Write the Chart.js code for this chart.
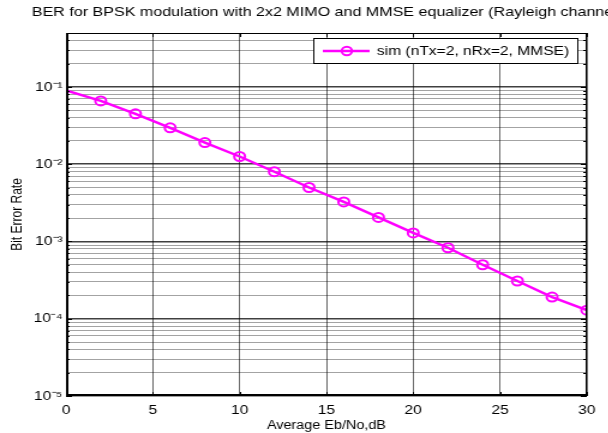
<!DOCTYPE html>
<html>
<head>
<meta charset="utf-8">
<script src="https://cdn.jsdelivr.net/npm/chart.js@4"></script>
<style>
  html, body { margin: 0; padding: 0; background: #fff; overflow: hidden; }
  /* the reference figure is stretched ~1.2x horizontally */
  #wrap { width: 507px; height: 433px; transform: scaleX(1.2); transform-origin: 0 0; }
</style>
</head>
<body>
<div id="wrap"><canvas id="chart" width="507" height="433"></canvas></div>
<script>
// BER vs Eb/No, 2x2 MIMO with MMSE equalizer
const ebno = [0, 2, 4, 6, 8, 10, 12, 14, 16, 18, 20, 22, 24, 26, 28, 30];
const ber = [0.0906, 0.066, 0.045, 0.0296, 0.0191, 0.0126, 0.0080, 0.0050,
             0.00325, 0.00205, 0.00129, 0.00083, 0.00050, 0.000308, 0.000191, 0.000129];
const xTicks = [0, 5, 10, 15, 20, 25, 30];
const yDecades = [-5, -4, -3, -2, -1];
const seriesName = 'sim (nTx=2, nRx=2, MMSE)';
const titleText = 'BER for BPSK modulation with 2x2 MIMO and MMSE equalizer (Rayleigh channel)';

const sup = { '-': '\u207B', '0': '\u2070', '1': '\u00B9', '2': '\u00B2', '3': '\u00B3',
              '4': '\u2074', '5': '\u2075', '6': '\u2076', '7': '\u2077', '8': '\u2078', '9': '\u2079' };
function powLabel(e) {
  return '10' + String(e).split('').map(c => sup[c]).join('');
}
function isDecade(v) {
  const e = Math.round(Math.log10(v));
  return Math.abs(v - Math.pow(10, e)) < 1e-12;
}

// axes box, inner tick marks, title and legend box (matlab style)
const frame = {
  id: 'frame',
  afterDraw(chart) {
    const a = chart.chartArea, ctx = chart.ctx;
    const xs = chart.scales.x, ys = chart.scales.y;
    ctx.save();
    ctx.strokeStyle = '#000';
    ctx.lineWidth = 1;
    ctx.beginPath();
    ctx.moveTo(a.left, a.top + 0.5); ctx.lineTo(a.right - 0.5, a.top + 0.5);
    ctx.lineTo(a.right - 0.5, a.bottom);
    // inner ticks
    ys.ticks.forEach(t => {
      const y = Math.round(ys.getPixelForValue(t.value)) + 0.5;
      const len = isDecade(t.value) ? 5 : 3;
      ctx.moveTo(a.left, y); ctx.lineTo(a.left + len, y);
      ctx.moveTo(a.right, y); ctx.lineTo(a.right - len, y);
    });
    xs.ticks.forEach(t => {
      const x = Math.round(xs.getPixelForValue(t.value)) + 0.5;
      ctx.moveTo(x, a.bottom); ctx.lineTo(x, a.bottom - 4);
      ctx.moveTo(x, a.top); ctx.lineTo(x, a.top + 4);
    });
    ctx.stroke();
    ctx.lineWidth = 2;
    ctx.beginPath();
    ctx.moveTo(a.left + 1, a.top); ctx.lineTo(a.left + 1, a.bottom - 1);
    ctx.lineTo(a.right, a.bottom - 1);
    ctx.stroke();

    // title (runs slightly past the right edge in the original)
    ctx.fillStyle = '#000';
    ctx.font = '13.4px "Liberation Sans", Arial, sans-serif';
    ctx.textAlign = 'left';
    ctx.textBaseline = 'middle';
    ctx.fillText(titleText, 26.5, 12);

    // legend
    const ds = chart.data.datasets[0];
    const bx = a.right - 228, by = a.top + 5, bw = 220, bh = 25;
    ctx.fillStyle = '#fff';
    ctx.fillRect(bx, by, bw, bh);
    ctx.lineWidth = 1;
    ctx.strokeStyle = '#000';
    ctx.strokeRect(bx + 0.5, by + 0.5, bw, bh);
    const ly = by + bh / 2 + 0.5;
    ctx.strokeStyle = ds.borderColor;
    ctx.lineWidth = 2.5;
    ctx.beginPath(); ctx.moveTo(bx + 8, ly); ctx.lineTo(bx + 47, ly); ctx.stroke();
    ctx.lineWidth = 2;
    ctx.beginPath(); ctx.arc(bx + 28, ly, 4.2, 0, Math.PI * 2); ctx.stroke();
    ctx.fillStyle = '#000';
    ctx.font = '13px "Liberation Sans", Arial, sans-serif';
    ctx.fillText(ds.label, bx + 53, ly);
    ctx.restore();
  }
};

const ctx = document.getElementById('chart').getContext('2d');
const myChart = new Chart(ctx, {
  type: 'line',
  data: {
    datasets: [{
      label: seriesName,
      data: ebno.map((x, i) => ({ x: x, y: ber[i] })),
      borderColor: '#ff00ff',
      borderWidth: 2.5,
      pointStyle: 'circle',
      pointRadius: ebno.map((x, i) => i === 0 ? 0 : 4.5),
      pointBorderWidth: 2,
      pointBorderColor: '#ff00ff',
      pointBackgroundColor: 'rgba(0,0,0,0)',
      tension: 0
    }]
  },
  options: {
    responsive: false,
    animation: false,
    devicePixelRatio: 1,
    layout: { padding: { left: 0, right: 18, top: 33, bottom: 0 } },
    plugins: {
      title: { display: false },
      legend: { display: false },
      tooltip: { enabled: false }
    },
    scales: {
      x: {
        type: 'linear',
        min: 0, max: 30,
        afterBuildTicks: s => { s.ticks = xTicks.map(v => ({ value: v })); },
        afterFit: s => { s.height = 37; },
        border: { display: false },
        grid: { color: 'rgba(0,0,0,0.6)', lineWidth: 1, drawTicks: false },
        ticks: {
          color: '#000', padding: 7,
          font: { family: 'Liberation Sans', size: 13 }
        },
        title: {
          display: true, text: 'Average Eb/No,dB', color: '#000',
          font: { family: 'Liberation Sans', size: 12 },
          padding: { top: 0, bottom: 0 }
        }
      },
      y: {
        type: 'logarithmic',
        min: 1e-5, max: 0.5,
        afterBuildTicks: s => {
          const t = [];
          yDecades.forEach(e => {
            for (let k = 1; k <= 9; k++) {
              const v = k * Math.pow(10, e);
              if (v <= 0.5 + 1e-12) t.push({ value: v });
            }
          });
          s.ticks = t;
        },
        afterFit: s => { s.width = 55; },
        border: { display: false },
        grid: {
          drawTicks: false,
          color: c => (c.tick && isDecade(c.tick.value)) ? 'rgba(0,0,0,0.75)' : 'rgba(0,0,0,0.36)',
          lineWidth: c => (c.tick && isDecade(c.tick.value)) ? 1.5 : 1
        },
        ticks: {
          autoSkip: false,
          color: '#000', padding: 3,
          font: { family: 'Liberation Sans', size: 13 },
          callback: v => isDecade(v) ? powLabel(Math.round(Math.log10(v))) : ''
        },
        title: {
          display: true, text: 'Bit Error Rate', color: '#000',
          font: { family: 'Liberation Sans', size: 12 },
          padding: { top: 7, bottom: 0 }
        }
      }
    }
  },
  plugins: [frame]
});
</script>
</body>
</html>
